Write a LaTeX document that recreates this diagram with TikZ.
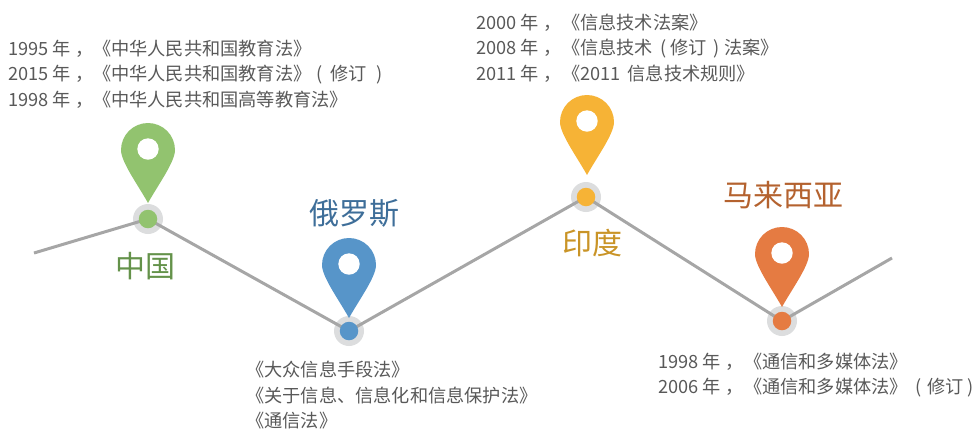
\documentclass[tikz,border=0pt]{standalone}
\usepackage{fontspec}
\setmainfont{Noto Sans CJK SC}
\definecolor{txt}{HTML}{595959}
\definecolor{lin}{HTML}{A6A6A6}
\definecolor{ring}{HTML}{DCDDDE}
\definecolor{cg}{HTML}{92C36F}
\definecolor{cb}{HTML}{5795C9}
\definecolor{cy}{HTML}{F6B336}
\definecolor{co}{HTML}{E57B42}
\definecolor{tg}{HTML}{64924A}
\definecolor{tb}{HTML}{3E6E99}
\definecolor{ty}{HTML}{C99427}
\definecolor{to}{HTML}{B4622F}
\tikzset{
  haloring/.style={circle,fill=ring,inner sep=0pt,minimum size=30pt},
  stopdot/.style={circle,inner sep=0pt,minimum size=18.5pt,fill=#1},
  road/.style={draw=lin,line width=3pt},
  info/.style={anchor=west,align=left,inner sep=0pt,text=txt,font=\fontsize{18.2}{25.5}\selectfont},
  country/.style={inner sep=0pt,font=\fontsize{30}{32}\selectfont},
  mappin/.pic={
    \fill[#1] (-27,0) .. controls (-27,-14.9) and (-14.9,-27) .. (0,-27)
      .. controls (14.9,-27) and (27,-14.9) .. (27,0)
      .. controls (27,12) and (10,35) .. (0,53)
      .. controls (-10,35) and (-27,12) .. (-27,0) -- cycle;
    \fill[white] (0,-1) circle[radius=10.7pt];
  }
}
\begin{document}
\begin{tikzpicture}[x=1pt,y=-1pt]
\useasboundingbox (0,0) rectangle (977,429);
\coordinate (start) at (34,253);
\coordinate (finish) at (892,258);
\node[haloring] (cn) at (148,219) {};
\node[haloring] (ru) at (349,331) {};
\node[haloring] (in) at (586,197) {};
\node[haloring] (my) at (782,321) {};
\draw[road] (start) -- (cn.center);
\draw[road] (cn.center) -- (ru.center);
\draw[road] (ru.center) -- (in.center);
\draw[road] (in.center) -- (my.center);
\draw[road] (my.center) -- (finish);
\node[stopdot=cg] (dcn) at (cn.center) {};
\node[stopdot=cb] (dru) at (ru.center) {};
\node[stopdot=cy] (din) at (in.center) {};
\node[stopdot=co] (dmy) at (my.center) {};
\pic at (148,150) {mappin=cg};
\pic at (349,265) {mappin=cb};
\pic at (587,122) {mappin=cy};
\pic at (782,254) {mappin=co};
\node[country,text=tg] (lcn) at (145,266) {中国};
\node[country,text=tb] (lru) at (354,213) {俄罗斯};
\node[country,text=ty] (lin) at (592,243) {印度};
\node[country,text=to] (lmy) at (783,195) {马来西亚};
\node[info] (tcn) at (8,74) {1995 年\kern5pt，\kern-1pt《中华人民共和国教育法》\\2015 年\kern5pt，\kern-1pt《中华人民共和国教育法》\kern5pt(\kern8pt修订\kern9pt)\\1998 年\kern5pt，\kern-1pt《中华人民共和国高等教育法》};
\node[info] (tin) at (476,48) {2000 年\kern5pt，《信息技术法案》\\2008 年\kern5pt，《信息技术\kern7pt(\kern4.4pt修订\kern6.5pt)\kern4.4pt法案》\\2011 年\kern5pt，《2011 \kern3pt信息技术规则》};
\node[info] (tru) at (246,395.5) {《大众信息手段法》\\《关于信息、信息化和信息保护法》\\《通信法》};
\node[info] (tmy) at (658,375) {1998 年\kern5pt，《通信和多媒体法》\\2006 年\kern5pt，《通信和多媒体法》\kern8pt(\kern5pt修订\kern4pt)};
\end{tikzpicture}
\end{document}
